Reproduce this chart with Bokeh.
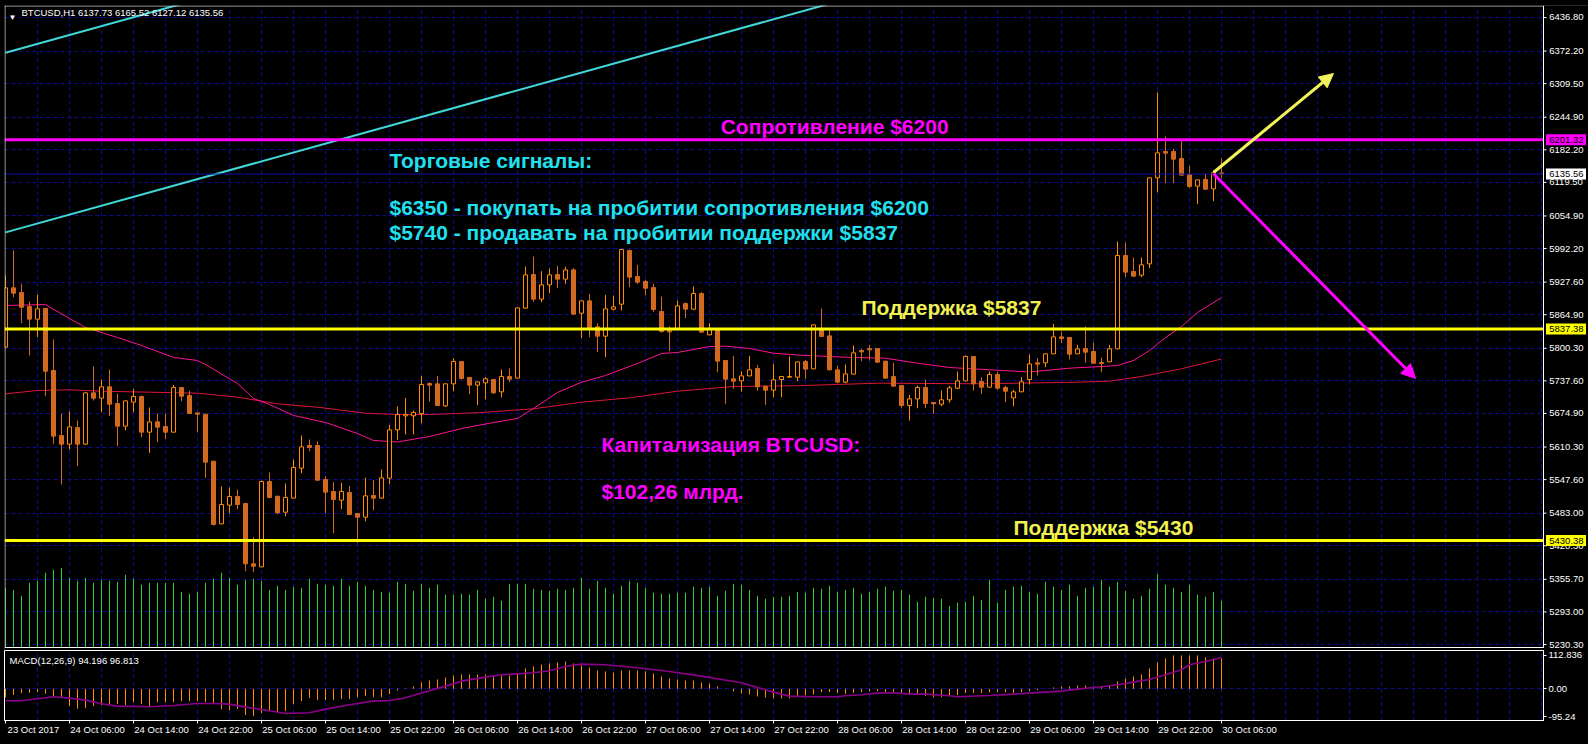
from bokeh.plotting import figure
from bokeh.models import (Range1d, FixedTicker, Label, Arrow, NormalHead, Span, BoxAnnotation,
                          ColumnDataSource)
from bokeh.layouts import column
from bokeh.embed import file_html
from bokeh.resources import INLINE
from bokeh.core.properties import value

# ---------------- data (BTCUSD H1, 23 Oct 22:00 .. 30 Oct 06:00) ----------------
opens = [5802.4, 5916.6, 5907.6, 5880.7, 5856.3, 5876.8, 5757.5, 5632.4, 5615.8, 5647.8,
         5615.8, 5714.5, 5704.3, 5726.1, 5694.0, 5650.4, 5696.6, 5707.5, 5638.9, 5658.7,
         5649.8, 5638.9, 5724.8, 5709.4, 5676.0, 5673.5, 5583.0, 5462.5, 5498.4, 5515.1,
         5501.6, 5385.5, 5379.7, 5543.9, 5515.7, 5484.9, 5511.9, 5569.6, 5613.2, 5613.2,
         5547.8, 5524.7, 5508.0, 5522.8, 5482.4, 5475.3, 5517.0, 5511.9, 5550.3, 5643.3,
         5670.3, 5670.3, 5674.8, 5732.5, 5731.9, 5689.5, 5731.9, 5774.8, 5744.0, 5729.3,
         5733.8, 5740.2, 5716.5, 5746.0, 5742.8, 5877.5, 5942.2, 5894.8, 5922.4, 5942.2,
         5933.3, 5951.2, 5867.8, 5891.6, 5841.5, 5823.6, 5875.5, 5885.2, 5988.4, 5938.4,
         5928.8, 5917.2, 5871.0, 5833.8, 5837.7, 5886.4, 5875.5, 5905.7, 5826.1, 5835.8,
         5776.8, 5741.5, 5737.6, 5747.2, 5761.4, 5727.4, 5719.7, 5740.2, 5744.7, 5744.7,
         5774.8, 5760.7, 5837.0, 5824.2, 5758.8, 5735.1, 5750.5, 5796.0, 5799.8, 5799.8,
         5775.5, 5746.0, 5728.6, 5690.2, 5703.0, 5724.8, 5695.9, 5692.7, 5701.1, 5723.5,
         5737.6, 5784.5, 5736.4, 5725.4, 5749.8, 5724.8, 5704.9, 5716.5, 5740.2, 5772.3,
         5772.3, 5789.6, 5822.3, 5821.0, 5789.6, 5799.8, 5794.1, 5772.9, 5774.2, 5799.2,
         5978.8, 5948.0, 5941.0, 5962.8, 6128.3, 6179.0, 6179.0, 6165.5, 6134.7, 6112.2,
         6125.1, 6107.1, 6137.73]
highs = [5940.3, 5988.4, 5924.3, 5890.3, 5903.8, 5877.3, 5817.2, 5674.8, 5678.6, 5661.3,
         5716.0, 5765.2, 5740.2, 5759.4, 5713.3, 5699.6, 5722.2, 5709.4, 5686.3, 5674.8,
         5674.8, 5729.9, 5726.0, 5718.4, 5676.5, 5674.0, 5583.5, 5534.3, 5532.4, 5528.5,
         5502.9, 5436.8, 5545.9, 5561.2, 5516.0, 5540.1, 5586.3, 5632.4, 5624.7, 5620.9,
         5554.2, 5542.6, 5541.4, 5535.6, 5482.8, 5551.6, 5546.5, 5567.0, 5653.0, 5688.2,
         5704.9, 5680.5, 5747.2, 5735.1, 5747.2, 5732.4, 5781.2, 5775.3, 5744.5, 5736.2,
         5744.7, 5740.6, 5759.4, 5761.4, 5878.6, 5957.6, 5976.9, 5948.6, 5953.8, 5958.9,
         5957.6, 5954.4, 5892.1, 5905.0, 5848.6, 5903.1, 5901.8, 5991.6, 5990.3, 5960.8,
         5932.0, 5924.3, 5899.9, 5842.2, 5892.2, 5888.4, 5919.1, 5908.2, 5848.6, 5836.3,
         5777.3, 5785.7, 5756.2, 5785.7, 5768.4, 5727.9, 5770.3, 5746.5, 5784.5, 5774.7,
         5778.0, 5845.9, 5876.8, 5834.5, 5767.1, 5769.1, 5805.6, 5799.2, 5806.9, 5800.3,
         5776.0, 5772.3, 5729.1, 5710.7, 5728.6, 5740.2, 5696.4, 5719.0, 5728.0, 5755.6,
         5786.4, 5785.0, 5744.7, 5755.6, 5755.6, 5728.6, 5720.3, 5744.7, 5788.3, 5781.2,
         5790.1, 5847.3, 5832.6, 5821.5, 5806.9, 5842.2, 5811.4, 5782.5, 5806.9, 6005.7,
         6003.9, 5975.0, 5975.0, 6128.8, 6292.5, 6207.8, 6184.1, 6200.1, 6151.4, 6124.9,
         6136.0, 6142.4, 6165.52]
lows = [5802.0, 5898.6, 5848.6, 5786.4, 5821.7, 5708.1, 5616.4, 5538.2, 5605.5, 5573.4,
        5614.0, 5699.8, 5677.3, 5669.6, 5611.9, 5642.7, 5677.3, 5629.2, 5599.1, 5619.6,
        5625.4, 5638.4, 5698.5, 5673.5, 5638.9, 5551.0, 5459.3, 5462.0, 5483.0, 5490.7,
        5371.4, 5369.5, 5379.0, 5511.9, 5481.1, 5477.2, 5511.5, 5560.0, 5602.3, 5545.8,
        5483.0, 5444.5, 5490.7, 5479.8, 5425.9, 5467.6, 5488.8, 5511.5, 5538.8, 5624.1,
        5634.4, 5634.4, 5656.2, 5697.9, 5689.6, 5687.0, 5717.7, 5740.2, 5712.0, 5690.8,
        5701.7, 5712.6, 5706.2, 5735.1, 5742.3, 5877.0, 5889.6, 5889.0, 5906.3, 5915.9,
        5924.3, 5864.6, 5819.7, 5821.7, 5792.8, 5783.2, 5873.0, 5873.0, 5917.9, 5924.3,
        5901.8, 5869.8, 5830.6, 5794.7, 5837.2, 5858.2, 5875.0, 5830.8, 5825.6, 5754.3,
        5693.4, 5722.2, 5717.1, 5746.7, 5718.4, 5691.4, 5706.2, 5706.2, 5744.2, 5737.0,
        5740.8, 5760.2, 5822.4, 5758.3, 5733.1, 5733.1, 5750.0, 5775.5, 5776.8, 5773.0,
        5742.3, 5727.0, 5685.0, 5661.3, 5685.0, 5685.0, 5674.1, 5688.9, 5695.3, 5721.6,
        5737.1, 5719.0, 5712.6, 5725.0, 5720.3, 5696.6, 5688.9, 5716.0, 5730.6, 5747.9,
        5763.9, 5789.1, 5810.1, 5778.7, 5789.1, 5772.3, 5770.3, 5754.3, 5773.7, 5798.7,
        5937.2, 5937.2, 5937.2, 5954.5, 6100.7, 6118.0, 6118.0, 6133.0, 6108.4, 6077.6,
        6104.5, 6083.4, 6127.12]
closes = [5916.6, 5906.3, 5879.4, 5856.3, 5876.2, 5756.2, 5631.2, 5615.8, 5649.1, 5615.8,
          5714.5, 5704.3, 5726.1, 5692.7, 5650.4, 5699.1, 5707.5, 5638.9, 5658.7, 5648.5,
          5638.9, 5724.8, 5708.1, 5674.8, 5673.5, 5581.1, 5461.2, 5499.7, 5515.1, 5499.7,
          5385.5, 5381.0, 5543.9, 5513.1, 5483.6, 5513.1, 5570.9, 5610.6, 5609.4, 5546.5,
          5523.4, 5509.3, 5524.7, 5480.4, 5475.3, 5516.3, 5511.9, 5551.0, 5643.3, 5672.8,
          5672.8, 5676.7, 5730.6, 5729.3, 5690.2, 5731.9, 5774.8, 5742.1, 5729.3, 5735.7,
          5741.5, 5714.5, 5746.0, 5740.8, 5878.1, 5941.6, 5894.8, 5922.4, 5941.6, 5933.3,
          5951.2, 5865.9, 5891.6, 5840.3, 5823.6, 5876.2, 5880.0, 5990.3, 5937.1, 5927.5,
          5915.9, 5874.9, 5832.6, 5831.9, 5881.9, 5875.5, 5905.7, 5831.3, 5837.7, 5775.5,
          5740.8, 5737.0, 5747.2, 5758.8, 5726.1, 5719.7, 5739.6, 5746.0, 5746.0, 5774.2,
          5760.1, 5845.4, 5822.9, 5758.8, 5735.1, 5751.1, 5791.5, 5793.4, 5797.3, 5773.5,
          5742.8, 5727.4, 5690.2, 5703.0, 5724.8, 5694.0, 5693.4, 5701.1, 5724.2, 5737.6,
          5784.5, 5731.9, 5725.4, 5749.8, 5723.5, 5717.7, 5716.5, 5735.7, 5770.3, 5769.7,
          5789.6, 5822.3, 5819.1, 5788.9, 5799.2, 5792.8, 5771.6, 5771.0, 5799.2, 5978.8,
          5946.8, 5939.1, 5960.9, 6128.3, 6176.4, 6175.7, 6164.2, 6133.4, 6111.6, 6124.4,
          6106.5, 6137.9, 6135.56]
volumes = [179, 173, 155, 194, 200, 224, 233, 239, 209, 200, 209, 194, 203, 200, 197, 218,
           206, 188, 194, 194, 194, 194, 167, 161, 167, 194, 206, 224, 209, 188, 203, 206,
           200, 173, 185, 173, 182, 179, 206, 191, 188, 185, 206, 185, 197, 185, 173, 167,
           164, 197, 191, 170, 191, 179, 188, 158, 158, 161, 158, 173, 146, 152, 140, 191,
           191, 191, 176, 173, 170, 176, 173, 179, 209, 176, 200, 179, 161, 185, 200, 194,
           179, 164, 161, 161, 164, 164, 182, 179, 182, 155, 170, 191, 188, 173, 155, 146,
           152, 152, 155, 167, 164, 179, 176, 185, 167, 173, 179, 161, 167, 176, 182, 170,
           173, 158, 137, 152, 149, 146, 125, 134, 137, 155, 143, 203, 134, 173, 182, 185,
           167, 161, 197, 182, 173, 188, 155, 179, 182, 203, 182, 197, 170, 146, 155, 176,
           221, 188, 179, 167, 188, 158, 152, 167, 140]
macd_hist = [-28.2, -20.3, -14.7, -13.5, -11.3, -16.9, -24.8, -31.6, -58.7, -67.7,
             -65.4, -58.7, -55.3, -55.3, -51.9, -55.3, -45.1, -51.9, -58.7, -45.1,
             -45.1, -45.1, -41.7, -41.7, -41.7, -45.1, -51.9, -68.8, -72.2, -68.8,
             -89.1, -92.5, -82.3, -75.6, -79.0, -75.6, -51.9, -41.7, -31.6, -38.4,
             -38.4, -38.4, -35.0, -35.0, -28.2, -24.8, -28.2, -28.2, -18.0, -5.6,
             1.5, 7.9, 21.4, 28.2, 31.6, 38.4, 45.1, 48.5, 48.5, 48.5,
             48.5, 41.7, 45.1, 45.1, 51.9, 68.8, 75.6, 82.3, 85.7, 89.1,
             92.5, 85.7, 79.0, 72.2, 62.0, 58.7, 55.3, 62.0, 62.0, 62.0,
             58.7, 51.9, 41.7, 35.0, 31.6, 28.2, 28.2, 21.4, 18.0, 7.9,
             1.1, -9.0, -15.8, -19.2, -25.9, -29.3, -32.7, -32.7, -32.7, -25.9,
             -22.6, -19.2, -11.3, -11.3, -14.7, -18.0, -14.7, -11.3, -7.9, -7.9,
             -11.3, -11.3, -18.0, -21.4, -21.4, -24.8, -28.2, -28.2, -21.4, -21.4,
             -14.7, -14.7, -14.7, -11.3, -11.3, -11.3, -14.7, -11.3, -7.9, -4.5,
             0.5, 4.5, 7.9, 7.9, 11.3, 11.3, 7.9, 7.9, 11.3, 24.8,
             35.0, 41.7, 48.5, 68.8, 89.1, 102.6, 112.8, 112.8, 112.8, 112.8,
             106.0, 102.6, 102.6]
signal_idx = [0, 2, 4, 6, 8, 10, 12, 14, 18, 21, 24, 26, 28, 30, 33, 35, 38, 40, 43, 46,
              48, 50, 55, 57, 60, 62, 66, 68, 70, 72, 75, 79, 83, 87, 92, 96, 98, 101,
              104, 105, 107, 109, 111, 113, 115, 118, 119, 123, 126, 128, 130, 132, 134,
              136, 137, 139, 141, 143, 145, 147, 148, 150, 152]
signal_val = [-40.6, -40.6, -33.8, -27.1, -31.6, -38.4, -50.8, -58.7, -60.9, -56.4,
              -49.6, -49.6, -51.9, -62.0, -74.4, -83.5, -81.2, -68.8, -54.1, -41.7,
              -39.5, -30.5, 9.0, 25.9, 39.5, 47.4, 54.1, 60.9, 75.6, 83.5,
              81.2, 71.1, 58.7, 42.9, 20.3, -11.3, -24.8, -27.1,
              -27.1, -23.7, -20.3, -14.7, -13.5, -18.0, -18.0, -23.7, -27.1, -22.6,
              -18.0, -14.7, -11.3, -7.9, -1.1, 4.5, 6.8, 13.5, 22.6, 31.6,
              47.4, 64.3, 81.2, 92.5, 106.0]
ma_fast_idx = [0, 5, 8, 10, 14, 17, 21, 24, 25, 29, 31, 33, 36, 40, 44, 46, 49, 53, 57, 61,
               64, 66, 69, 72, 75, 79, 82, 84, 88, 90, 93, 96, 99, 101, 105, 110, 114, 118,
               123, 128, 133, 137, 139, 141, 143, 145, 147, 149, 152]
ma_fast_val = [5882.6, 5884.5, 5857.6, 5840.3, 5821.0, 5805.7, 5782.6, 5776.8, 5769.1, 5732.5,
               5703.7, 5692.1, 5671.0, 5657.5, 5636.3, 5622.9, 5620.0, 5630.5, 5645.9, 5657.5,
               5665.2, 5684.4, 5715.2, 5735.0, 5747.9, 5771.0, 5790.3, 5792.2, 5803.7, 5804.3,
               5799.9, 5790.8, 5787.4, 5785.8, 5783.1, 5781.2, 5771.6, 5763.3, 5758.9, 5754.7,
               5762.0, 5765.2, 5767.2, 5776.8, 5796.0, 5821.0, 5842.2, 5869.1, 5898.0]
ma_slow_idx = [0, 4, 8, 12, 18, 24, 29, 34, 39, 45, 49, 53, 59, 66, 72, 78, 84, 91, 99, 109,
               122, 134, 138, 142, 147, 152]
ma_slow_val = [5712.7, 5719.1, 5720.4, 5717.7, 5715.8, 5713.9, 5706.2, 5693.5, 5686.9, 5675.4,
               5672.9, 5672.9, 5676.2, 5683.8, 5696.5, 5705.0, 5717.7, 5726.8, 5728.3, 5733.1,
               5732.0, 5735.0, 5737.0, 5746.0, 5760.8, 5779.7]

price_ticks = [6436.80, 6372.20, 6309.50, 6244.90, 6182.20, 6119.50, 6054.90, 5992.20, 5927.60,
               5864.90, 5800.30, 5737.60, 5674.90, 5610.30, 5547.60, 5483.00, 5420.30, 5355.70,
               5293.00, 5230.30]
time_tick_idx = list(range(0, 153, 8))
time_labels = ["23 Oct 2017", "24 Oct 06:00", "24 Oct 14:00", "24 Oct 22:00", "25 Oct 06:00",
               "25 Oct 14:00", "25 Oct 22:00", "26 Oct 06:00", "26 Oct 14:00", "26 Oct 22:00",
               "27 Oct 06:00", "27 Oct 14:00", "27 Oct 22:00", "28 Oct 06:00", "28 Oct 14:00",
               "28 Oct 22:00", "29 Oct 06:00", "29 Oct 14:00", "29 Oct 22:00", "30 Oct 06:00"]
macd_ticks = [112.836, 0.0, -95.24]
macd_tick_labels = ["112.836", "0.00", "-95.24"]

resistance = 6201.32
support_hi = 5837.38
support_lo = 5430.38
last_price = 6135.56
price_tags = [resistance, last_price, support_hi, support_lo]
price_tag_colors = ["#FF00FF", "#FFFFFF", "#FFFF00", "#FFFF00"]

# trend channel (drawn objects)
trend_x = [[0, 30], [0, 110]]
trend_y = [[6368.9, 6497.1], [6023.3, 6493.2]]
# arrows: start idx/price, end idx/price
arrow_up = (151.0, 6138.5, 166.0, 6329.0)
arrow_dn = (151.0, 6136.0, 176.25, 5742.2)

# ---------------- layout constants ----------------
BG = "#000000"
GRID = "#0c0c8c"
BULL = "#FF8C00"
BEAR = "#D2691E"
FONT = "Liberation Sans"
SMALL = "9.5px"
PX_X = 8.0            # px per candle
PX_Y = 1.9242         # price per px
X0, X_AXIS, X_END = -0.125, 192.25, 197.875
Y_TOP, Y_FRAME_BOT, Y_BOT = 6459.88, 5224.54, 5218.77

N = len(opens)
idx = list(range(N))

p = figure(frame_width=1584, frame_height=645, x_range=Range1d(X0, X_END),
           y_range=Range1d(Y_BOT, Y_TOP), output_backend="svg", toolbar_location=None,
           x_axis_location=None, y_axis_location=None, background_fill_color=BG,
           border_fill_color=BG, outline_line_color=None, min_border_left=4,
           min_border_top=5, min_border_bottom=0, min_border_right=0)
p.extra_y_ranges = {"vol": Range1d(-9, 1926)}

p.ygrid.ticker = FixedTicker(ticks=price_ticks)
p.ygrid.grid_line_color = GRID
p.ygrid.grid_line_dash = "4 3"
p.xgrid.ticker = FixedTicker(ticks=list(range(4, 193, 4)))
p.xgrid.grid_line_color = GRID
p.xgrid.grid_line_dash = "4 3"

# volumes
p.segment(x0=idx, y0=[0] * N, x1=idx, y1=volumes, y_range_name="vol",
          line_color="#32CD32", line_width=1)

# trend channel
p.multi_line(xs=trend_x, ys=trend_y, line_color="#40D8D8", line_width=2)

# moving averages
p.line(ma_slow_idx, ma_slow_val, line_color="#DC143C", line_width=1)
p.line(ma_fast_idx, ma_fast_val, line_color="#FF1493", line_width=1)

# candles
bull = [c > o for o, c in zip(opens, closes)]
src = ColumnDataSource(dict(
    x=idx, h=highs, l=lows,
    top=[max(o, c) for o, c in zip(opens, closes)],
    bot=[min(o, c) for o, c in zip(opens, closes)],
    wick=[BULL if b else BEAR for b in bull],
    fill=["black" if b else BEAR for b in bull],
    line=[BULL if b else BEAR for b in bull],
))
p.segment(x0="x", y0="l", x1="x", y1="h", source=src, line_color="wick", line_width=1)
p.vbar(x="x", width=0.5, top="top", bottom="bot", source=src,
       fill_color="fill", line_color="line", line_width=1)

# levels
p.add_layout(Span(location=last_price, dimension="width", line_color="#1010A0", line_width=1))
p.add_layout(Span(location=resistance, dimension="width", line_color="#FF00FF", line_width=3))
p.add_layout(Span(location=support_hi, dimension="width", line_color="#FFFF00", line_width=3))
p.add_layout(Span(location=support_lo, dimension="width", line_color="#FFFF00", line_width=3))

# arrows
p.add_layout(Arrow(end=NormalHead(size=14, fill_color="#F2F25A", line_color="#F2F25A"),
                   x_start=arrow_up[0], y_start=arrow_up[1], x_end=arrow_up[2], y_end=arrow_up[3],
                   line_color="#F2F25A", line_width=3))
p.add_layout(Arrow(end=NormalHead(size=14, fill_color="#FF00FF", line_color="#FF00FF"),
                   x_start=arrow_dn[0], y_start=arrow_dn[1], x_end=arrow_dn[2], y_end=arrow_dn[3],
                   line_color="#FF00FF", line_width=3))

# chart texts
CYAN = "#20E0F0"
MAG = "#FF00FF"
YEL = "#F0F050"
texts = [
    ("Сопротивление $6200", 89.4, 6227.1, MAG),
    ("Торговые сигналы:", 48.0, 6161.7, CYAN),
    ("$6350 - покупать на пробитии сопротивления $6200", 48.0, 6071.2, CYAN),
    ("$5740 - продавать на пробитии поддержки $5837", 48.0, 6023.1, CYAN),
    ("Поддержка $5837", 107.0, 5878.8, YEL),
    ("Капитализация BTCUSD:", 74.5, 5614.2, MAG),
    ("$102,26 млрд.", 74.5, 5524.7, MAG),
    ("Поддержка $5430", 126.0, 5455.5, YEL),
]
for t, x, y, col in texts:
    p.add_layout(Label(x=x, y=y, text=t, text_color=col, text_font=FONT,
                       text_font_style="bold", text_font_size="21px",
                       text_baseline="alphabetic", text_align="left"))

# header
p.add_layout(Label(x=4, y=638, x_units="screen", y_units="screen", text="▼",
                   text_color="white", text_font=FONT, text_font_size="8px",
                   text_baseline="top"))
p.add_layout(Label(x=17, y=644, x_units="screen", y_units="screen",
                   text="BTCUSD,H1  6137.73 6165.52 6127.12 6135.56",
                   text_color="white", text_font=FONT, text_font_size=SMALL,
                   text_baseline="top"))

# ---- price scale area (right of the chart) ----
p.add_layout(BoxAnnotation(left=X_AXIS, fill_color=BG, fill_alpha=1.0, line_color=None))
p.add_layout(BoxAnnotation(top=Y_FRAME_BOT, fill_color=BG, fill_alpha=1.0, line_color=None))
p.add_layout(Span(location=X_AXIS, dimension="height", line_color="white", line_width=1))
p.add_layout(Span(location=Y_FRAME_BOT, dimension="width", line_color="white", line_width=1))
p.add_layout(Span(location=Y_TOP - 0.5 * PX_Y, dimension="width", line_color="#C8C8C8", line_width=1))
p.add_layout(Span(location=X0 + 0.5 / PX_X, dimension="height", line_color="#C8C8C8", line_width=1))
# mask frame lines right of the axis / below the pane
p.add_layout(BoxAnnotation(left=X_AXIS + 0.6 / PX_X, fill_color=BG, fill_alpha=1.0, line_color=None))
p.add_layout(BoxAnnotation(top=Y_FRAME_BOT - 0.6 * PX_Y, fill_color=BG, fill_alpha=1.0, line_color=None))

nt = len(price_ticks)
p.segment(x0=[X_AXIS] * nt, y0=price_ticks, x1=[X_AXIS + 3 / PX_X] * nt, y1=price_ticks,
          line_color="white", line_width=1, level="overlay")
p.text(x=[X_AXIS + 5.75 / PX_X] * nt, y=price_ticks, text=["%.2f" % v for v in price_ticks],
       text_color="white", text_font=value(FONT), text_font_size=value(SMALL),
       text_baseline="middle", text_align="left", level="overlay")
# price tags
half_h = 5.5 * PX_Y
p.quad(left=[X_AXIS + 2.5 / PX_X] * 4, right=[X_AXIS + 42.5 / PX_X] * 4,
       top=[v + half_h for v in price_tags], bottom=[v - half_h for v in price_tags],
       fill_color=price_tag_colors, line_color=None, level="overlay")
p.text(x=[X_AXIS + 5.75 / PX_X] * 4, y=price_tags, text=["%.2f" % v for v in price_tags],
       text_color="black", text_font=value(FONT), text_font_size=value(SMALL),
       text_baseline="middle", text_align="left", level="overlay")

# ---------------- MACD pane ----------------
m = figure(frame_width=1539, frame_height=70, x_range=Range1d(X0, X_AXIS),
           y_range=Range1d(-107.3, 129.6),
           output_backend="svg", toolbar_location=None, y_axis_location="right",
           background_fill_color=BG, border_fill_color=BG, outline_line_color="white",
           min_border_left=4, min_border_top=0, min_border_bottom=24, min_border_right=45)

lab_pos = [i + 3.5 for i in time_tick_idx]
m.xaxis.ticker = FixedTicker(ticks=lab_pos, minor_ticks=time_tick_idx)
m.xaxis.major_label_overrides = {pos: lab for pos, lab in zip(lab_pos, time_labels)}
m.xaxis.axis_line_color = "white"
m.xaxis.major_tick_line_color = None
m.xaxis.major_tick_out = 0
m.xaxis.minor_tick_line_color = "white"
m.xaxis.minor_tick_out = 3
m.xaxis.minor_tick_in = 0
m.xaxis.major_label_text_color = "white"
m.xaxis.major_label_text_font = FONT
m.xaxis.major_label_text_font_size = SMALL
m.xaxis.major_label_standoff = 0

m.yaxis.ticker = FixedTicker(ticks=macd_ticks)
m.yaxis.major_label_overrides = {v: s for v, s in zip(macd_ticks, macd_tick_labels)}
m.yaxis.axis_line_color = "white"
m.yaxis.major_tick_line_color = "white"
m.yaxis.major_tick_out = 3
m.yaxis.major_tick_in = 0
m.yaxis.minor_tick_line_color = None
m.yaxis.major_label_text_color = "white"
m.yaxis.major_label_text_font = FONT
m.yaxis.major_label_text_font_size = SMALL
m.yaxis.major_label_standoff = 2

m.xgrid.ticker = FixedTicker(ticks=list(range(4, 193, 4)))
m.xgrid.grid_line_color = GRID
m.xgrid.grid_line_dash = "4 3"
m.ygrid.ticker = FixedTicker(ticks=[0])
m.ygrid.grid_line_color = GRID
m.ygrid.grid_line_dash = "4 3"

m.segment(x0=idx, y0=[0] * N, x1=idx, y1=macd_hist, line_color="#FF8C00", line_width=1)
m.line(signal_idx, signal_val, line_color="#8B008B", line_width=1.6)
m.add_layout(Label(x=5, y=66, x_units="screen", y_units="screen",
                   text="MACD(12,26,9) 94.196 96.813", text_color="white",
                   text_font=FONT, text_font_size=SMALL, text_baseline="top"))

layout = column(p, m, spacing=0, styles={"background-color": "black"})

open("out.html", "w").write(file_html(layout, INLINE, title="BTCUSD H1"))
